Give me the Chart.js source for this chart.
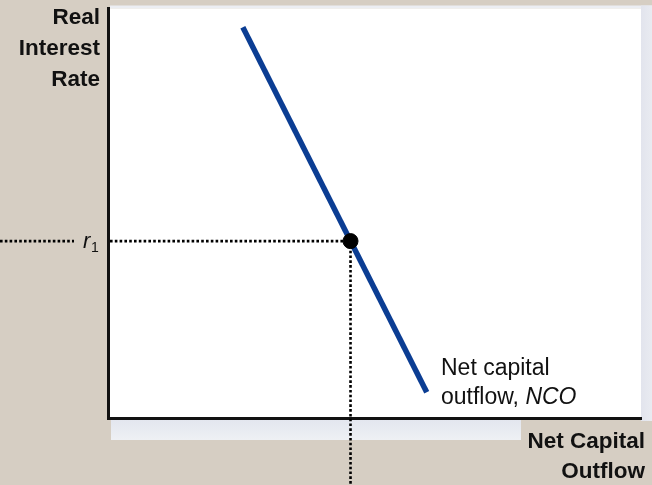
<!DOCTYPE html>
<html>
<head>
<meta charset="utf-8">
<script src="https://cdn.jsdelivr.net/npm/chart.js@4.4.1/dist/chart.umd.min.js"></script>
<style>
  html, body { margin: 0; padding: 0; background: #d6cec3; }
  canvas { display: block; }
</style>
</head>
<body>
<canvas id="c" width="652" height="485"></canvas>
<script>
// Net capital outflow schedule (downward sloping) in axis units 0..100
const ncoX = [25.3, 59.8];
const ncoY = [95.4, 6.3];
// Equilibrium real interest rate r1 and the matching outflow
const eqX = [45.5];
const eqY = [43.2];
// Text
const yTitle = ['Real', 'Interest', 'Rate'];
const xTitle = ['Net Capital', 'Outflow'];
const curveLabel = ['Net capital', 'outflow, '];
const curveName = 'NCO';
const rateLabel = 'r';
const rateSub = '1';

const BEIGE = '#d6cec3';
const FONT = '"Liberation Sans", Arial, sans-serif';

const panel = {
  id: 'panel',
  beforeDraw(chart) {
    const { ctx, chartArea: a } = chart;
    ctx.save();
    ctx.fillStyle = BEIGE;
    ctx.fillRect(0, 0, chart.width, chart.height);
    // soft shadow around the plotting panel
    ctx.fillStyle = '#eceef3';
    ctx.fillRect(a.left + 2, a.top - 3, chart.width - a.left - 2, 3);
    let g = ctx.createLinearGradient(a.right, 0, chart.width, 0);
    g.addColorStop(0, '#e2e4ed');
    g.addColorStop(1, '#e9ebf1');
    ctx.fillStyle = g;
    ctx.fillRect(a.right, a.top - 3, chart.width - a.right, a.bottom + 3 - a.top + 3);
    g = ctx.createLinearGradient(0, a.bottom, 0, a.bottom + 22);
    g.addColorStop(0, '#e2e5ee');
    g.addColorStop(1, '#eef0f4');
    ctx.fillStyle = g;
    ctx.fillRect(a.left + 3, a.bottom + 1, 410, 21);
    ctx.fillStyle = '#ffffff';
    ctx.fillRect(a.left, a.top, a.right - a.left, a.bottom - a.top);
    ctx.restore();
  },
  beforeDatasetsDraw(chart) {
    const { ctx, scales: { x, y } } = chart;
    const px = x.getPixelForValue(eqX[0]);
    const py = y.getPixelForValue(eqY[0]);
    ctx.save();
    ctx.strokeStyle = '#000';
    ctx.lineWidth = 2.6;
    ctx.setLineDash([2.6, 2.2]);
    ctx.beginPath();
    ctx.moveTo(0, py); ctx.lineTo(74, py);
    ctx.moveTo(x.left + 2, py); ctx.lineTo(px, py);
    ctx.moveTo(px, py); ctx.lineTo(px, chart.height);
    ctx.stroke();
    ctx.restore();
  },
  afterDraw(chart) {
    const { ctx, scales: { y } } = chart;
    const py = y.getPixelForValue(eqY[0]);
    ctx.save();
    ctx.fillStyle = '#111';
    ctx.textAlign = 'right';
    ctx.textBaseline = 'alphabetic';
    ctx.font = 'bold 22.5px ' + FONT;
    yTitle.forEach((t, i) => ctx.fillText(t, 100, 24 + i * 31));
    xTitle.forEach((t, i) => ctx.fillText(t, 645, 448 + i * 30));
    ctx.textAlign = 'left';
    ctx.font = '23px ' + FONT;
    ctx.fillText(curveLabel[0], 441, 375);
    ctx.fillText(curveLabel[1], 441, 404);
    const w = ctx.measureText(curveLabel[1]).width;
    ctx.font = 'italic 23px ' + FONT;
    ctx.fillText(curveName, 441 + w, 404);
    ctx.font = 'italic 22px ' + FONT;
    ctx.fillText(rateLabel, 83, py + 7);
    ctx.font = '14px ' + FONT;
    ctx.fillText(rateSub, 91, py + 11);
    ctx.restore();
  }
};

new Chart(document.getElementById('c'), {
  type: 'scatter',
  data: {
    datasets: [
      {
        // equilibrium point, drawn on top of the schedule
        label: 'r1',
        data: eqX.map((v, i) => ({ x: v, y: eqY[i] })),
        backgroundColor: '#000',
        borderColor: '#000',
        borderWidth: 1,
        pointRadius: 7.5,
        pointHoverRadius: 7.5,
        order: 0
      },
      {
        label: 'NCO',
        data: ncoX.map((v, i) => ({ x: v, y: ncoY[i] })),
        showLine: true,
        borderColor: '#0b3d93',
        borderWidth: 5.5,
        borderCapStyle: 'butt',
        pointRadius: 0,
        pointHoverRadius: 0,
        order: 1
      }
    ]
  },
  options: {
    responsive: false,
    animation: false,
    events: [],
    layout: { padding: { left: 108, right: 11, top: 8, bottom: 67 } },
    plugins: { legend: { display: false }, tooltip: { enabled: false } },
    scales: {
      x: {
        type: 'linear', min: 0, max: 100,
        grid: { display: false, drawTicks: false },
        border: { display: true, color: '#111', width: 3 },
        ticks: { display: false },
        afterFit(s) { s.height = 0; }
      },
      y: {
        type: 'linear', min: 0, max: 100,
        grid: { display: false, drawTicks: false },
        border: { display: true, color: '#111', width: 3 },
        ticks: { display: false },
        afterFit(s) { s.width = 0; }
      }
    }
  },
  plugins: [panel]
});
</script>
</body>
</html>
